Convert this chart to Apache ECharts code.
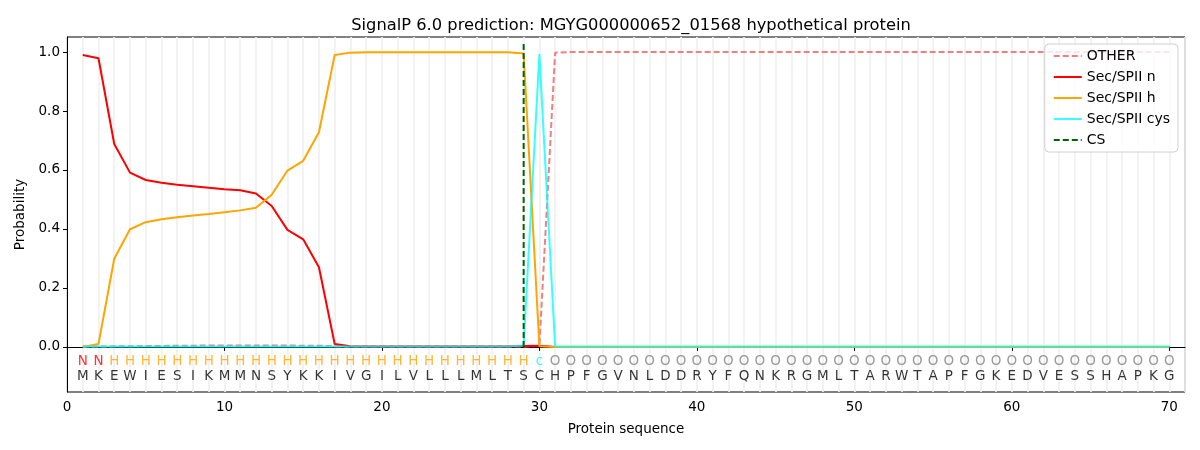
<!DOCTYPE html>
<html>
<head>
<meta charset="utf-8">
<script src="https://cdn.jsdelivr.net/npm/echarts@6/dist/echarts.min.js"></script>
<style>html,body{margin:0;padding:0;background:#fff}#c{width:1200px;height:450px}</style>
</head>
<body>
<div id="c"></div>
<script>
var positions = [];
for (var p = 1; p <= 70; p++) positions.push(p);

var sequence = "MKEWIESIKMMNSYKKIVGILVLLLMLTSCHPFGVNLDDRYFQNKRGMLTARWTAPFGKEDVESSHAPKG".split("");
var regionLabels = ["N","N"].concat(Array(27).fill("H"), ["c"], Array(40).fill("O"));

var otherVals = [0.001,0.001,0.002,0.002,0.003,0.003,0.004,0.004,0.005,0.005,0.005,0.005,0.005,0.005,0.004,0.004,0.002,0.001,0.001,0.001,0.001,0.001,0.001,0.001,0.001,0.001,0.001,0.001,0.001,0.003,0.998,
  1,1,1,1,1,1,1,1,1,1,1,1,1,1,1,1,1,1,1,1,1,1,1,1,1,1,1,1,1,1,1,1,1,1,1,1,1,1,1];
var secN = [0.990,0.979,0.688,0.591,0.566,0.557,0.550,0.545,0.540,0.535,0.531,0.520,0.478,0.397,0.365,0.270,0.010,0.002,0.001,0.001,0.001,0.001,0.001,0.001,0.001,0.001,0.001,0.001,0.003,0.004,0,
  0,0,0,0,0,0,0,0,0,0,0,0,0,0,0,0,0,0,0,0,0,0,0,0,0,0,0,0,0,0,0,0,0,0,0,0,0,0,0];
var secH = [0.000,0.010,0.299,0.399,0.423,0.433,0.440,0.446,0.451,0.457,0.463,0.472,0.516,0.598,0.631,0.728,0.990,0.998,0.999,0.999,0.999,0.999,0.999,0.999,0.999,0.999,0.999,0.999,0.995,0.002,0,
  0,0,0,0,0,0,0,0,0,0,0,0,0,0,0,0,0,0,0,0,0,0,0,0,0,0,0,0,0,0,0,0,0,0,0,0,0,0,0];
var secCys = [0.001,0.001,0.001,0.001,0.001,0.001,0.001,0.001,0.001,0.001,0.001,0.001,0.001,0.001,0.001,0.001,0.001,0.001,0.001,0.001,0.001,0.001,0.001,0.001,0.001,0.001,0.001,0.001,0.005,0.993,0.001,
  0.001,0.001,0.001,0.001,0.001,0.001,0.001,0.001,0.001,0.001,0.001,0.001,0.001,0.001,0.001,0.001,0.001,0.001,0.001,0.001,0.001,0.001,0.001,0.001,0.001,0.001,0.001,0.001,0.001,0.001,0.001,0.001,0.001,0.001,0.001,0.001,0.001,0.001,0.001];
var csPos = 29;
var csTop = 1.037;

var yTicks = [0, 0.2, 0.4, 0.6, 0.8, 1.0];
var xTicks = [0, 10, 20, 30, 40, 50, 60, 70];

var labelColors = {N: "#ff0000", H: "#ffa500", c: "#00ffff", O: "#808080"};
var FONT = "DejaVu Sans";

function pairs(vals) { return positions.map(function (x, i) { return [x, vals[i]]; }); }

var chart = echarts.init(document.getElementById("c"), null, {renderer: "canvas"});
chart.setOption({
  animation: false,
  backgroundColor: "#fff",
  textStyle: {fontFamily: FONT},
  title: {
    text: "SignalP 6.0 prediction: MGYG000000652_01568 hypothetical protein",
    left: 626, top: 13, textAlign: "center",
    textStyle: {fontFamily: FONT, fontSize: 16.3, fontWeight: "normal", color: "#000"}
  },
  grid: {left: 67, right: 15, top: 37, bottom: 58, show: true, borderColor: "#000", borderWidth: 1, backgroundColor: "transparent"},
  legend: {
    orient: "vertical", right: 22, top: 44,
    data: ["OTHER", "Sec/SPII n", "Sec/SPII h", "Sec/SPII cys", "CS"],
    itemWidth: 28, itemHeight: 14, itemGap: 7,
    padding: [5, 8, 5, 8],
    borderColor: "#d0d0d0", borderWidth: 1, borderRadius: 4,
    backgroundColor: "rgba(255,255,255,0.8)",
    itemStyle: {opacity: 0},
    textStyle: {fontFamily: FONT, fontSize: 14, color: "#000"}
  },
  xAxis: [{
    type: "value", min: 0, max: 71, position: "bottom",
    name: "Protein sequence", nameLocation: "middle", nameGap: 30,
    nameTextStyle: {fontFamily: FONT, fontSize: 13.5, color: "#000"},
    axisLine: {show: true, lineStyle: {color: "#000"}},
    axisTick: {show: true, length: 4, lineStyle: {color: "#000"}, customValues: xTicks},
    axisLabel: {fontFamily: FONT, fontSize: 13.5, color: "#000", margin: 8, customValues: xTicks},
    splitLine: {show: false}
  }, {
    type: "value", min: 0, max: 71, interval: 1, position: "top",
    axisLine: {show: false}, axisTick: {show: false}, axisLabel: {show: false},
    splitLine: {show: true, lineStyle: {color: "#f0f0f0", width: 1.7}}
  }],
  yAxis: [{
    type: "value", min: -0.153, max: 1.051,
    name: "Probability", nameLocation: "middle", nameGap: 39, nameRotate: 90,
    nameTextStyle: {fontFamily: FONT, fontSize: 13.5, color: "#000"},
    axisLine: {show: true, lineStyle: {color: "#000"}},
    axisTick: {show: true, length: 4, lineStyle: {color: "#000"}, customValues: yTicks},
    axisLabel: {fontFamily: FONT, fontSize: 13.5, color: "#000", margin: 7, customValues: yTicks,
      formatter: function (v) { return v.toFixed(1); }},
    splitLine: {show: false}
  }],
  series: [
    {name: "OTHER", type: "line", data: pairs(otherVals), symbol: "none", z: 2,
      lineStyle: {color: "#f08080", width: 2, type: [6, 3]}, itemStyle: {color: "#f08080"}},
    {name: "Sec/SPII n", type: "line", data: pairs(secN), symbol: "none", z: 3,
      lineStyle: {color: "#ff0000", width: 2}, itemStyle: {color: "#ff0000"}},
    {name: "Sec/SPII h", type: "line", data: pairs(secH), symbol: "none", z: 4,
      lineStyle: {color: "#ffa500", width: 2}, itemStyle: {color: "#ffa500"}},
    {name: "Sec/SPII cys", type: "line", data: pairs(secCys), symbol: "none", z: 5,
      lineStyle: {color: "#00ffff", width: 2, opacity: 0.78}, itemStyle: {color: "#00ffff"}},
    {name: "CS", type: "line", data: [[csPos, 0], [csPos, csTop]], symbol: "none", z: 6,
      lineStyle: {color: "#006400", width: 2, type: [6, 3]}, itemStyle: {color: "#006400"}},
    {type: "scatter", symbolSize: 0, z: 7, silent: true,
      data: positions.map(function (x, i) {
        return {value: [x, -0.05], name: regionLabels[i], label: {color: labelColors[regionLabels[i]]}};
      }),
      label: {show: true, position: "inside", fontFamily: FONT, fontSize: 13.5,
        formatter: function (p) { return p.name; }}},
    {type: "scatter", symbolSize: 0, z: 7, silent: true,
      data: positions.map(function (x, i) { return {value: [x, -0.10], name: sequence[i]}; }),
      label: {show: true, position: "inside", fontFamily: FONT, fontSize: 13.5, color: "#000",
        formatter: function (p) { return p.name; }}}
  ]
});
</script>
</body>
</html>
